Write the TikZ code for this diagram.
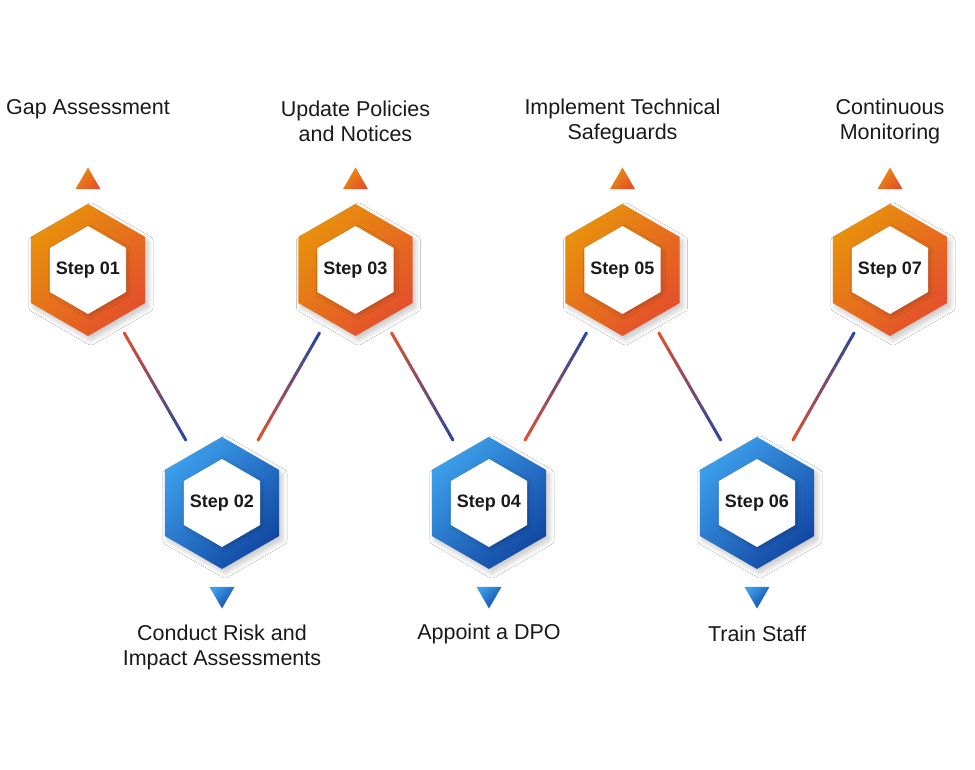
\documentclass[tikz,border=0pt]{standalone}
\usepackage{fontspec}
\setmainfont{Liberation Sans}
\usetikzlibrary{shapes.geometric,calc,shadows.blur}
\definecolor{orA}{HTML}{E8900C}
\definecolor{orB}{HTML}{E4502C}
\definecolor{blA}{HTML}{3C9EEA}
\definecolor{blB}{HTML}{1248A4}
\definecolor{lnB}{HTML}{2448A0}
\definecolor{txt}{HTML}{1A1A1A}
\tikzset{
  hexshape/.style={regular polygon, regular polygon sides=6, shape border rotate=30, inner sep=0pt, outer sep=0pt},
  outshadow/.style={blur shadow={shadow xshift=3pt, shadow yshift=-4pt, shadow blur radius=5pt, shadow blur steps=10, shadow opacity=22}},
  orhex/.style={hexshape, minimum size=132pt, top color=orA, bottom color=orB, shading angle=45, outshadow},
  blhex/.style={hexshape, minimum size=132pt, top color=blA, bottom color=blB, shading angle=45, outshadow},
  innerhex/.style={hexshape, minimum size=88pt, fill=white,
    blur shadow={shadow xshift=2pt, shadow yshift=-2pt, shadow blur radius=3pt, shadow blur steps=8, shadow opacity=18}},
  steptxt/.style={text=txt, font=\bfseries\fontsize{18}{20}\selectfont, inner sep=0pt},
  uptri/.style={regular polygon, regular polygon sides=3, minimum size=29pt, inner sep=0pt,
    top color=orA, bottom color=orB, shading angle=45},
  downtri/.style={regular polygon, regular polygon sides=3, shape border rotate=180, minimum size=29pt, inner sep=0pt,
    top color=blA, bottom color=blB, shading angle=45},
  lbl/.style={align=center, text=txt, font=\fontsize{21.5}{25}\selectfont, inner sep=0pt},
}
\begin{document}
\begin{tikzpicture}[x=1pt,y=-1pt]
\useasboundingbox[fill=white] (0,0) rectangle (975,770);

% centres
\coordinate (c1) at (88,270);
\coordinate (c2) at (222,503);
\coordinate (c3) at (355.5,270);
\coordinate (c4) at (489,503);
\coordinate (c5) at (622.5,270);
\coordinate (c6) at (757,503);
\coordinate (c7) at (890,270);

% connectors (behind hexagons), orange at left end, blue at right end
\foreach \a/\b in {c1/c2,c2/c3,c3/c4,c4/c5,c5/c6,c6/c7}{
  \foreach \i in {0,...,19}{
    \pgfmathsetmacro\t{0.27+0.46*\i/20}
    \pgfmathsetmacro\u{0.27+0.46*(\i+1)/20}
    \pgfmathtruncatemacro\p{5*\i+3}
    \draw[line width=3pt, line cap=round, color=lnB!\p!orB] ($(\a)!\t!(\b)$) -- ($(\a)!\u!(\b)$);
  }
}

% hexagons
\node[orhex] (s1) at (c1) {};
\node[blhex] (s2) at (c2) {};
\node[orhex] (s3) at (c3) {};
\node[blhex] (s4) at (c4) {};
\node[orhex] (s5) at (c5) {};
\node[blhex] (s6) at (c6) {};
\node[orhex] (s7) at (c7) {};
\foreach \k in {1,...,7}{
  \node[innerhex] (i\k) at (s\k.center) {};
}
\node[steptxt] (n1) at (i1.center) {Step 01};
\node[steptxt] (n2) at (i2.center) {Step 02};
\node[steptxt] (n3) at (i3.center) {Step 03};
\node[steptxt] (n4) at (i4.center) {Step 04};
\node[steptxt] (n5) at (i5.center) {Step 05};
\node[steptxt] (n6) at (i6.center) {Step 06};
\node[steptxt] (n7) at (i7.center) {Step 07};

% triangles
\node[uptri] (t1) at (88,182) {};
\node[uptri] (t3) at (355.5,182) {};
\node[uptri] (t5) at (622.5,182) {};
\node[uptri] (t7) at (890,182) {};
\node[downtri] (t2) at (222,594) {};
\node[downtri] (t4) at (489,594) {};
\node[downtri] (t6) at (757,594) {};

% labels
\node[lbl] (l1) at (88,109) {Gap Assessment};
\node[lbl] (l3) at (355.5,121) {Update Policies\\and Notices};
\node[lbl] (l5) at (622.5,121) {Implement Technical\\Safeguards};
\node[lbl] (l7) at (890,121) {Continuous\\Monitoring};
\node[lbl] (l2) at (222,647) {Conduct Risk and\\Impact Assessments};
\node[lbl] (l4) at (489,634) {Appoint a DPO};
\node[lbl] (l6) at (757,634) {Train Staff};
\end{tikzpicture}
\end{document}
